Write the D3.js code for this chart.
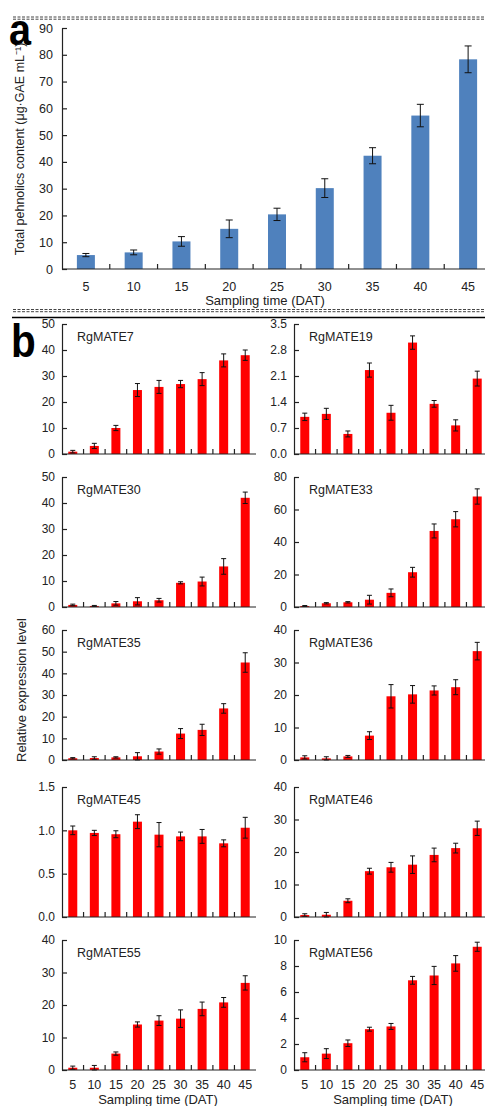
<!DOCTYPE html>
<html><head><meta charset="utf-8">
<script src="https://cdn.jsdelivr.net/npm/d3@7"></script>
<style>
html,body{margin:0;padding:0;background:#fff;}
svg{display:block;font-family:Arial,"Liberation Sans",sans-serif;}
</style></head>
<body>
<svg id="c" width="485" height="1106"></svg>
<script>
// ---------- DATA ----------
const categories = ["5","10","15","20","25","30","35","40","45"];

const phenolics    = [5.2, 6.2, 10.3, 15.0, 20.4, 30.2, 42.3, 57.3, 78.3];
const phenolicsErr = [0.6, 0.9, 1.8, 3.3, 2.3, 3.5, 3.0, 4.2, 5.0];
const phenolicsTicks = [0,10,20,30,40,50,60,70,80,90];

const geneNames = ["RgMATE7","RgMATE19","RgMATE30","RgMATE33","RgMATE35","RgMATE36","RgMATE45","RgMATE46","RgMATE55","RgMATE56"];

const mate7     = [0.9, 3.1, 10.0, 24.6, 25.8, 26.9, 28.8, 36.0, 38.0];
const mate7Err  = [0.5, 1.0, 1.0, 2.5, 2.5, 1.4, 2.5, 2.5, 2.0];
const mate19    = [1.00, 1.08, 0.54, 2.26, 1.11, 3.00, 1.35, 0.77, 2.03];
const mate19Err = [0.10, 0.15, 0.08, 0.19, 0.20, 0.18, 0.09, 0.15, 0.20];
const mate30    = [0.8, 0.4, 1.4, 2.2, 2.6, 9.3, 9.8, 15.6, 42.0];
const mate30Err = [0.3, 0.2, 0.7, 1.4, 0.7, 0.4, 1.7, 3.0, 2.2];
const mate33    = [0.6, 2.3, 2.9, 4.5, 8.7, 21.4, 46.8, 54.0, 68.0];
const mate33Err = [0.3, 0.4, 0.4, 2.7, 2.4, 3.0, 4.3, 4.7, 4.7];
const mate35    = [0.8, 0.9, 1.2, 1.7, 3.9, 12.2, 13.9, 23.8, 45.0];
const mate35Err = [0.3, 0.6, 0.3, 1.7, 1.2, 2.3, 2.6, 2.2, 4.5];
const mate36    = [0.8, 0.5, 1.1, 7.5, 19.6, 20.2, 21.4, 22.4, 33.5];
const mate36Err = [0.5, 0.5, 0.3, 1.2, 3.6, 2.7, 1.4, 2.3, 2.7];
const mate45    = [1.00, 0.97, 0.955, 1.10, 0.95, 0.93, 0.93, 0.85, 1.03];
const mate45Err = [0.05, 0.03, 0.04, 0.08, 0.14, 0.05, 0.08, 0.04, 0.12];
const mate46    = [0.6, 0.7, 5.0, 14.1, 15.3, 16.1, 19.1, 21.2, 27.3];
const mate46Err = [0.4, 0.7, 0.6, 0.9, 1.5, 2.7, 2.1, 1.5, 2.2];
const mate55    = [0.7, 0.7, 5.05, 14.0, 15.2, 15.8, 18.8, 20.8, 26.8];
const mate55Err = [0.5, 0.7, 0.5, 0.8, 1.5, 2.7, 2.1, 1.5, 2.2];
const mate56    = [0.98, 1.26, 2.06, 3.14, 3.35, 6.90, 7.27, 8.20, 9.48];
const mate56Err = [0.35, 0.38, 0.25, 0.15, 0.23, 0.30, 0.70, 0.60, 0.35];

const ticks7  = [0,10,20,30,40,50];
const ticks19 = [0,0.7,1.4,2.1,2.8,3.5];
const ticks30 = [0,10,20,30,40,50];
const ticks33 = [0,20,40,60,80];
const ticks35 = [0,10,20,30,40,50,60];
const ticks36 = [0,10,20,30,40];
const ticks45 = [0,0.5,1.0,1.5];
const ticks46 = [0,10,20,30,40];
const ticks55 = [0,10,20,30,40];
const ticks56 = [0,2,4,6,8,10];

const geneValues = [mate7, mate19, mate30, mate33, mate35, mate36, mate45, mate46, mate55, mate56];
const geneErrs   = [mate7Err, mate19Err, mate30Err, mate33Err, mate35Err, mate36Err, mate45Err, mate46Err, mate55Err, mate56Err];
const geneTicks  = [ticks7, ticks19, ticks30, ticks33, ticks35, ticks36, ticks45, ticks46, ticks55, ticks56];
const geneTickFmt = ["d",".1f","d","d","d","d",".1f","d","d","d"];

const xTitle = "Sampling time (DAT)";
const yTitleA = "Total pehnolics content (μg·GAE mL⁻¹)";
const yTitleB = "Relative expression level";

// ---------- DRAW ----------
const svg = d3.select("#c");
const axisCol = "#222";
const textCol = "#222";

function separatorDashed(y){
  [y, y+2.2].forEach(yy=>{
    svg.append("line").attr("x1",13).attr("x2",485).attr("y1",yy).attr("y2",yy)
      .attr("stroke","#444").attr("stroke-width",1).attr("stroke-dasharray","3,1.5");
  });
}
separatorDashed(17);
separatorDashed(309.5);
svg.append("line").attr("x1",12).attr("x2",485).attr("y1",317.5).attr("y2",317.5)
  .attr("stroke","#000").attr("stroke-width",1.6);

function drawPanel(opt){
  const g = svg.append("g");
  const x = d3.scaleBand().domain(categories).range([opt.x0, opt.x0+opt.w]).padding(0);
  const y = d3.scaleLinear().domain([0, d3.max(opt.ticks)]).range([opt.bottom, opt.top]);
  const bw = x.bandwidth();
  // bars
  g.selectAll("rect.bar").data(opt.values).join("rect")
    .attr("x",(d,i)=>x(categories[i])+bw/2-opt.barW/2)
    .attr("width",opt.barW)
    .attr("y",d=>y(d))
    .attr("height",d=>y(0)-y(d))
    .attr("fill",opt.color);
  // error bars
  const eg = g.append("g").attr("stroke","#111").attr("stroke-width",1);
  opt.values.forEach((d,i)=>{
    const cx = x(categories[i])+bw/2;
    const e = opt.errs[i];
    eg.append("line").attr("x1",cx).attr("x2",cx).attr("y1",y(d+e)).attr("y2",y(d-e));
    eg.append("line").attr("x1",cx-opt.cap).attr("x2",cx+opt.cap).attr("y1",y(d+e)).attr("y2",y(d+e));
    eg.append("line").attr("x1",cx-opt.cap).attr("x2",cx+opt.cap).attr("y1",y(d-e)).attr("y2",y(d-e));
  });
  // y axis
  const ya = d3.axisLeft(y).tickValues(opt.ticks).tickSizeInner(-5).tickSizeOuter(0)
    .tickPadding(opt.tickPad).tickFormat(d3.format(opt.fmt));
  const yg = g.append("g").attr("transform",`translate(${opt.x0},0)`).call(ya);
  yg.select(".domain").attr("stroke",axisCol).attr("stroke-width",1.2);
  yg.selectAll(".tick line").attr("stroke",axisCol).attr("stroke-width",1.2);
  yg.selectAll(".tick text").attr("fill",textCol).attr("font-size",opt.fs).attr("font-family","Arial, 'Liberation Sans', sans-serif");
  // x axis line
  g.append("line").attr("x1",opt.x0).attr("x2",opt.x0+opt.w).attr("y1",opt.bottom).attr("y2",opt.bottom)
    .attr("stroke",axisCol).attr("stroke-width",1.2);
  // boundary ticks
  categories.slice(1).forEach(c=>{
    g.append("line").attr("x1",x(c)).attr("x2",x(c)).attr("y1",opt.bottom).attr("y2",opt.bottom-5)
      .attr("stroke",axisCol).attr("stroke-width",1.2);
  });
  if(opt.xLabels){
    const xa = d3.axisBottom(x).tickSize(0).tickPadding(0);
    const xg = g.append("g").attr("transform",`translate(0,${opt.bottom})`).call(xa);
    xg.select(".domain").remove();
    xg.selectAll(".tick text").attr("fill",textCol).attr("font-size",opt.xfs)
      .attr("font-family","Arial, 'Liberation Sans', sans-serif")
      .attr("dy",null).attr("y",opt.xLabelDy);
    g.append("text").attr("x",opt.titleX).attr("y",opt.bottom+opt.titleDy)
      .attr("text-anchor","middle").attr("font-size",13).attr("fill",textCol)
      .attr("xml:space","preserve").text(xTitle);
  }
  if(opt.name){
    g.append("text").attr("x",opt.x0+15).attr("y",opt.top+16.5)
      .attr("font-size",12.5).attr("fill",textCol).text(opt.name);
  }
}

// Panel a
drawPanel({x0:62, w:430, top:28, bottom:269, values:phenolics, errs:phenolicsErr,
  ticks:phenolicsTicks, fmt:"d", color:"#4f81bd", barW:18, cap:3.5, tickPad:9, fs:12.5,
  xLabels:true, xfs:12.5, xLabelDy:22, titleX:265, titleDy:36});

svg.append("text").attr("x",9).attr("y",45).attr("font-size",44).attr("font-weight","bold")
  .attr("font-family","Arial, 'Liberation Sans', sans-serif").attr("fill","#000")
  .attr("transform","translate(9,45) scale(0.9,1) translate(-9,-45)").text("a");
svg.append("text").attr("x",11).attr("y",357).attr("font-size",46).attr("font-weight","bold")
  .attr("font-family","Arial, 'Liberation Sans', sans-serif").attr("fill","#000")
  .attr("transform","translate(11,357) scale(0.88,1) translate(-11,-357)").text("b");

svg.append("text").attr("transform","translate(24,149) rotate(-90)")
  .attr("text-anchor","middle").attr("font-size",12.5).attr("fill",textCol).text(yTitleA);
svg.append("text").attr("transform","translate(26,690) rotate(-90)")
  .attr("text-anchor","middle").attr("font-size",13).attr("fill",textCol).text(yTitleB);

// Panel b
const rowTops = [324, 477, 630, 787, 940];
const colX = [62, 294];
geneNames.forEach((name,i)=>{
  const r = Math.floor(i/2), c = i%2;
  const top = rowTops[r];
  drawPanel({x0:colX[c], w:194, top:top, bottom:top+130, values:geneValues[i], errs:geneErrs[i],
    ticks:geneTicks[i], fmt:geneTickFmt[i], color:"#ff0000", barW:9, cap:2.5, tickPad:7, fs:12,
    xLabels:r===4, xfs:12.5, xLabelDy:19, titleX: c===0 ? 158 : 393, titleDy:34, name:name});
});
</script>
</body></html>
